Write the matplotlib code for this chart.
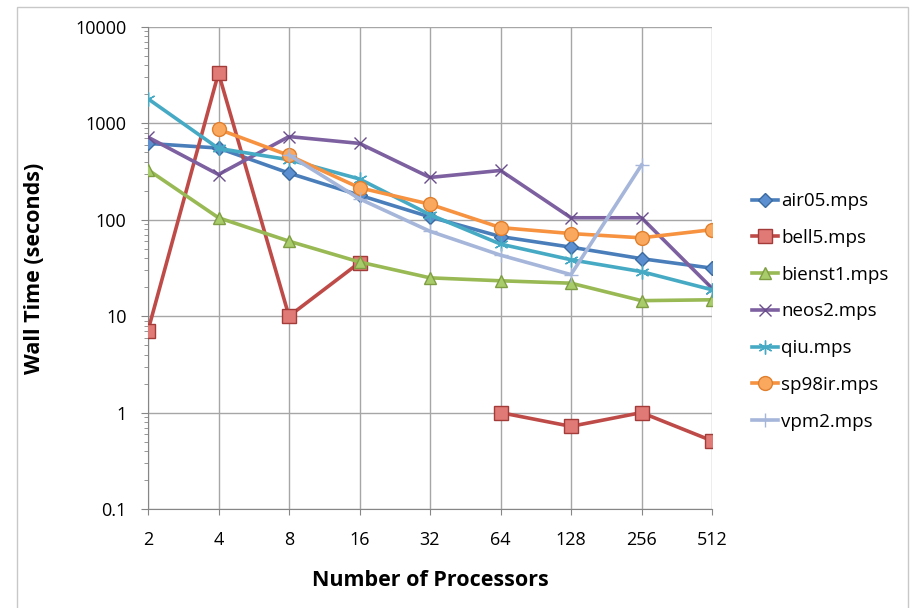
import numpy as np
import matplotlib
matplotlib.use("Agg")
from matplotlib import pyplot as plt
from matplotlib.patches import Rectangle
from matplotlib.ticker import FixedLocator, NullFormatter, LogLocator

plt.rcParams['font.family'] = ['Open Sans', 'DejaVu Sans']

procs = [2, 4, 8, 16, 32, 64, 128, 256, 512]
nan = np.nan
air05 = [620, 555, 305, 180, 107, 67, 52, 39.5, 31.5]
bell5 = [7.1, 3330, 10, 36, nan, 1.0, 0.72, 1.0, 0.51]
bienst1 = [330, 105, 60, 36.5, 25, 23.3, 22, 14.5, 14.8]
neos2 = [720, 295, 730, 620, 275, 325, 105, 105, 19.5]
qiu = [1800, 550, 420, 265, 113, 56, 38.5, 29, 18.8]
sp98ir = [nan, 870, 465, 215, 145, 83, 72, 65, 79]
vpm2 = [nan, nan, 470, 165, 76, 43, 27, 370, nan]

series = [
    ("air05.mps", air05, "#4A7EBB", "D", "#5B8FD0", "#3B6AA0", 7),
    ("bell5.mps", bell5, "#BE4B48", "s", "#E07A77", "#A33B38", 9.5),
    ("bienst1.mps", bienst1, "#98B954", "^", "#A9CC6A", "#7F9E43", 9),
    ("neos2.mps", neos2, "#7D60A0", "x", "#7D60A0", "#6A4E8C", 9),
    ("qiu.mps", qiu, "#46AAC5", (6, 2, 0), "#46AAC5", "#46AAC5", 10),
    ("sp98ir.mps", sp98ir, "#F69240", "o", "#F9A85E", "#E07F2E", 10),
    ("vpm2.mps", vpm2, "#A5B6DA", "+", "#A5B6DA", "#A5B6DA", 10),
]

fig = plt.figure(figsize=(9.16, 6.08), dpi=100)
ax = fig.add_axes([148 / 916, 1 - 509 / 608, (712 - 148) / 916, (509 - 27) / 608])

for name, vals, col, mk, fc, ec, ms in series:
    ax.plot(procs, np.array(vals, dtype=float), color=col, lw=2.6, marker=mk,
            markersize=ms, markerfacecolor=fc, markeredgecolor=ec,
            markeredgewidth=1.0, label=name, zorder=3)

ax.set_xscale('log', base=2)
ax.set_yscale('log')
ax.set_xlim(2, 512)
ax.set_ylim(0.1, 10000)
ax.xaxis.set_major_locator(FixedLocator(procs))
ax.xaxis.set_minor_locator(FixedLocator([]))
ax.set_xticklabels([str(p) for p in procs])
ax.xaxis.set_minor_formatter(NullFormatter())
ax.yaxis.set_major_locator(FixedLocator([0.1, 1, 10, 100, 1000, 10000]))
ax.set_yticklabels(["0.1", "1", "10", "100", "1000", "10000"])
ax.yaxis.set_minor_locator(LogLocator(base=10, subs=np.arange(2, 10)))
ax.yaxis.set_minor_formatter(NullFormatter())

ax.grid(True, which='major', color='#A6A6A6', lw=1.0)
ax.set_axisbelow(True)
for s in ['top', 'right']:
    ax.spines[s].set_visible(False)
for s in ['left', 'bottom']:
    ax.spines[s].set_color('#868686')
ax.tick_params(axis='y', which='major', direction='out', length=5, color='#868686',
               labelsize=13, pad=10.5)
ax.tick_params(axis='y', which='minor', direction='out', length=3, color='#868686')
ax.tick_params(axis='x', which='major', direction='out', length=4, color='#868686',
               labelsize=13, pad=12)

ax.set_xlabel("Number of Processors", fontsize=15.5, fontweight='bold', labelpad=15)
ax.set_ylabel("Wall Time (seconds)", fontsize=15.5, fontweight='bold', labelpad=22)

ax.legend(loc='center left', bbox_to_anchor=(1.058, 0.41), frameon=False,
          fontsize=13.5, labelspacing=1.0, handlelength=1.4, handletextpad=0.15,
          borderaxespad=0)

fig.patches.append(Rectangle((17 / 916, -0.01), (908 - 17) / 916, 1 - 7 / 608 + 0.01,
                             transform=fig.transFigure, fill=False,
                             edgecolor='#C8C8C8', lw=1.0))

fig.savefig("out.png", dpi=100)
